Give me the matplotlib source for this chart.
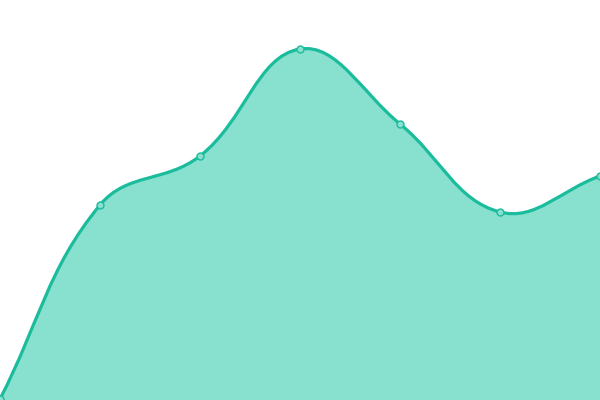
import matplotlib
matplotlib.use("Agg")
import matplotlib.pyplot as plt
import numpy as np
from matplotlib.path import Path
from matplotlib.patches import PathPatch

x_vals = [0, 100, 200, 300, 400, 500, 600]
y_vals = [1, 195, 244, 351, 276, 188, 224]

line_color = "#1abc9c"
fill_color = "#88e0cf"

fig = plt.figure(figsize=(6, 4), dpi=100)
ax = fig.add_axes([0, 0, 1, 1])
ax.set_xlim(0, 600)
ax.set_ylim(0, 400)
ax.axis("off")

pts = np.column_stack([x_vals, y_vals]).astype(float)
n = len(pts)
t = 0.4
cps = []
for i in range(n):
    prev = pts[i - 1] if i > 0 else pts[i]
    cur = pts[i]
    nxt = pts[i + 1] if i < n - 1 else pts[i]
    d01 = np.hypot(*(cur - prev))
    d12 = np.hypot(*(nxt - cur))
    s01 = d01 / (d01 + d12) if (d01 + d12) else 0
    s12 = d12 / (d01 + d12) if (d01 + d12) else 0
    fa = t * s01
    fb = t * s12
    cp_prev = cur - fa * (nxt - prev)
    cp_next = cur + fb * (nxt - prev)
    cps.append((cp_prev, cp_next))

verts = [pts[0]]
codes = [Path.MOVETO]
for i in range(n - 1):
    verts += [cps[i][1], cps[i + 1][0], pts[i + 1]]
    codes += [Path.CURVE4] * 3

line_path = Path(verts, codes)
fill_verts = verts + [(pts[-1][0], 0), (pts[0][0], 0), pts[0]]
fill_codes = codes + [Path.LINETO, Path.LINETO, Path.CLOSEPOLY]
ax.add_patch(PathPatch(Path(fill_verts, fill_codes), facecolor=fill_color, edgecolor="none", zorder=1))
ax.add_patch(PathPatch(line_path, facecolor="none", edgecolor=line_color, lw=2.3, zorder=2, clip_on=False))
ax.plot(x_vals, y_vals, "o", ms=5, mfc=fill_color, mec=line_color, mew=1, zorder=3, clip_on=False)

fig.savefig("out.png", dpi=100)
